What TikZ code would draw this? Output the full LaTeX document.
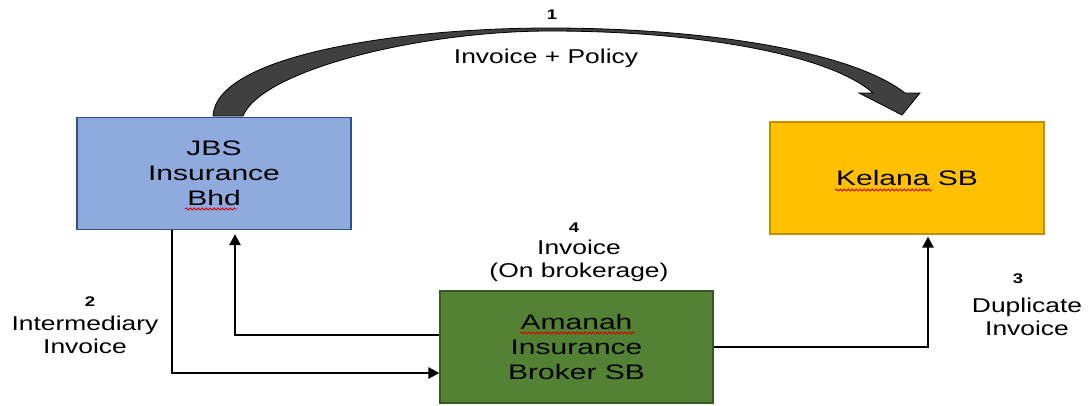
\documentclass[tikz,border=0pt]{standalone}
\usepackage{fontspec}
\setmainfont{Liberation Sans}
\newfontfamily\boxfont[FakeStretch=1.43]{Liberation Sans}
\newfontfamily\labfont[FakeStretch=1.32]{Liberation Sans}
\usetikzlibrary{arrows.meta,decorations.pathmorphing}
\definecolor{jbsfill}{HTML}{8FAADC}
\definecolor{jbsline}{HTML}{2F528F}
\definecolor{kelfill}{HTML}{FFC000}
\definecolor{kelline}{HTML}{C09000}
\definecolor{amafill}{HTML}{548235}
\definecolor{amaline}{HTML}{385723}
\definecolor{arrowgray}{HTML}{404040}

\begin{document}
\begin{tikzpicture}[x=1pt,y=-1pt,
  box/.style={draw, line width=1.2pt, minimum width=274pt, minimum height=112pt,
    align=center, inner sep=0pt, text=black,
    font=\boxfont\fontsize{21}{25}\selectfont},
  conn/.style={line width=2.5pt, -{Triangle[width=11pt,length=11pt]}},
  lab/.style={align=center, inner sep=0pt, text=black,
    font=\labfont\fontsize{20}{23}\selectfont},
  num/.style={inner sep=0pt, text=black, font=\labfont\bfseries\fontsize{14}{16}\selectfont},
  squig/.style={red!85!black, line width=0.8pt, decorate,
    decoration={snake, amplitude=1.1pt, segment length=4pt}}
]
\useasboundingbox (0,0) rectangle (1089,405);

% broad curved arrow: invoice and policy sent to Kelana
\filldraw[fill=arrowgray, draw=black, line width=0.8pt]
  (213,116) .. controls (216,55) and (400,28) .. (550,28)
  .. controls (700,28) and (850,50) .. (905,93)
  -- (920,93) -- (902,115) -- (859,93) -- (873,93)
  .. controls (830,55) and (700,31) .. (550,31)
  .. controls (420,31) and (262,70) .. (243,116) -- cycle;

% parties
\node[box, fill=jbsfill, draw=jbsline] (jbs) at (214,173.5) {JBS\\Insurance\\Bhd};
\node[box, fill=kelfill, draw=kelline] (kelana) at (907,178) {Kelana SB};
\node[box, fill=amafill, draw=amaline, minimum width=273pt] (amanah) at (576.5,347)
  {Amanah\\Insurance\\Broker SB};

% spelling marks under words
\draw[squig] (185,209) -- (237,209);
\draw[squig] (835,190) -- (932,190);
\draw[squig] (520,333) -- (635,333);

% flows between parties
\coordinate (c2) at (172,373);
\coordinate (c4) at (235,335);
\coordinate (c3) at (928,347);
\draw[conn] (jbs.south -| c2) |- (amanah.west |- c2);
\draw[conn, shorten >=4pt] (amanah.west |- c4) -| (jbs.south -| c4);
\draw[conn, shorten >=2pt] (amanah.east |- c3) -| (kelana.south -| c3);

% labels
\node[num] (n1) at (552,15) {1};
\node[lab] (l1) at (546,58) {Invoice + Policy};
\node[num] (n2) at (90,302) {2};
\node[lab] (l2) at (85,335) {Intermediary\\Invoice};
\node[num] (n4) at (574,228) {4};
\node[lab] (l4) at (579,261) {Invoice\\(On brokerage)};
\node[num] (n3) at (1018,279) {3};
\node[lab] (l3) at (1027,317) {Duplicate\\Invoice};
\end{tikzpicture}
\end{document}
